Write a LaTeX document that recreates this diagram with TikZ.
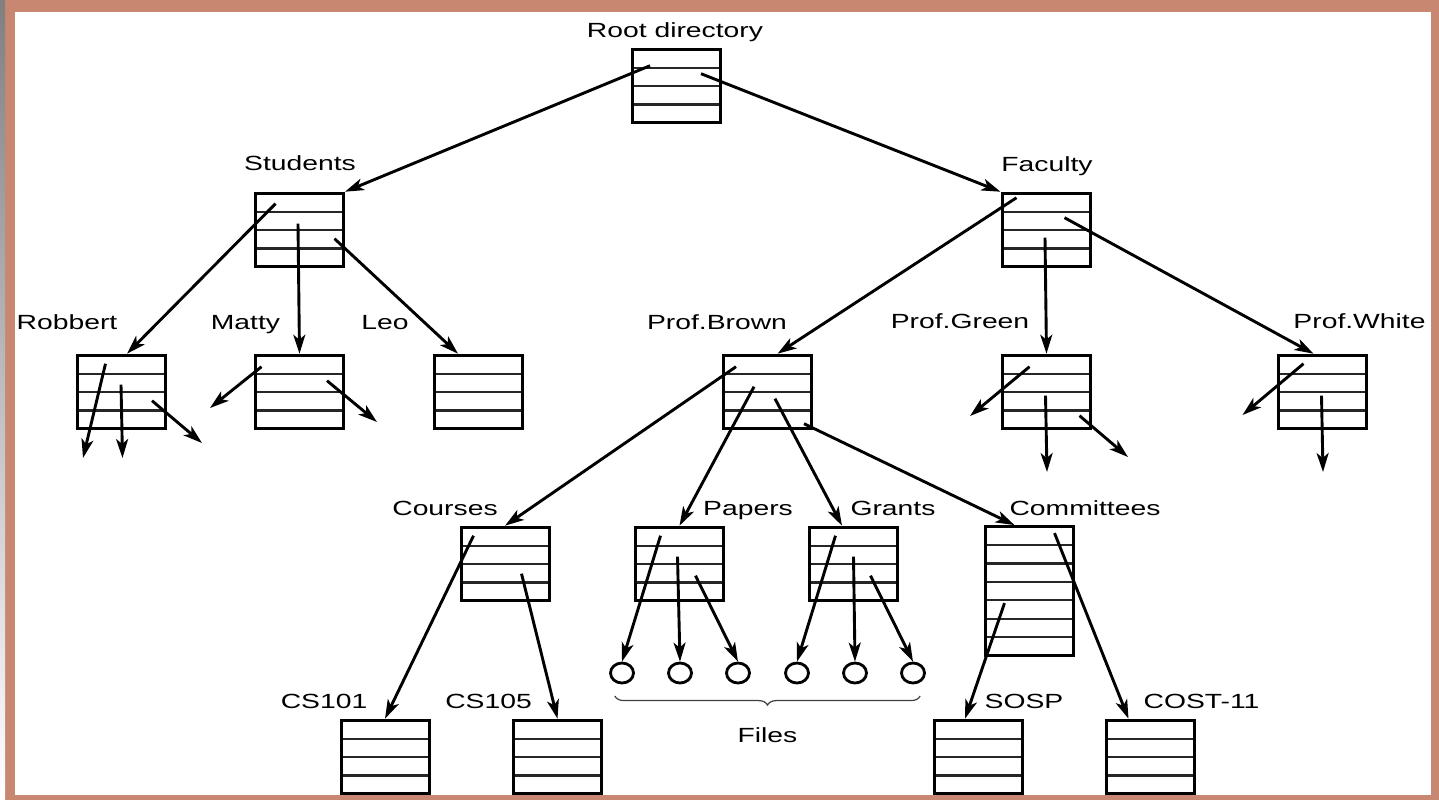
\documentclass[tikz,border=0pt]{standalone}
\usepackage{fontspec}
\setmainfont{Liberation Sans}[FakeStretch=1.38]
\usetikzlibrary{positioning, arrows.meta, calc, decorations.pathreplacing, shapes.geometric}
\definecolor{frame}{RGB}{200,135,112}
\definecolor{shade}{RGB}{180,186,145}

\begin{document}
\begin{tikzpicture}[
  x=0.5pt, y=-0.5pt,
  font=\fontsize{10.25}{12}\selectfont, >={Stealth[length=9.5pt, width=6pt, inset=2.5pt]},
  dirbox/.style={draw, line width=1.5pt, minimum width=44pt, minimum height=#1*9.2pt, inner sep=0pt,
    path picture={\foreach \k in {1,...,#1}
      \draw[line width=1.1pt, black!85] ($(path picture bounding box.north west)!\k/#1!(path picture bounding box.south west)$) -- ++(100,0);}},
  dirbox/.default=4,
  lbl/.style={anchor=base, inner sep=0pt},
  file/.style={draw, ellipse, line width=1.4pt, minimum width=11.5pt, minimum height=10pt, inner sep=0pt},
  ptr/.style={->, line width=1.45pt},
]
  \useasboundingbox (0,0) rectangle (1439,800);
  \fill[frame] (0,0) rectangle (1439,800);
  \fill[shade] (0,0) rectangle (5,800);
  \fill[white] (15,12) rectangle (1431,795);

  \node[dirbox] (root) at (676.5,86) {};
  \node[dirbox] (stud) at (299.5,230) {};
  \node[dirbox] (fac) at (1046,230) {};
  \node[dirbox] (rob) at (121,392) {};
  \node[dirbox] (mat) at (299.5,392) {};
  \node[dirbox] (leo) at (478,392) {};
  \node[dirbox] (brown) at (767.5,392) {};
  \node[dirbox] (green) at (1046.5,392) {};
  \node[dirbox] (white) at (1322.5,392) {};
  \node[dirbox] (crs) at (505,564) {};
  \node[dirbox] (pap) at (679.5,564) {};
  \node[dirbox] (grn) at (853.5,564) {};
  \node[dirbox=7] (com) at (1029.5,591) {};
  \node[dirbox] (cs1) at (385,757) {};
  \node[dirbox] (cs5) at (557.5,757) {};
  \node[dirbox] (sosp) at (978,757) {};
  \node[dirbox] (cost) at (1150.5,757) {};
  \foreach \x [count=\i] in {622,680,738,797,855,913}
    \node[file] (f\i) at (\x,673) {};

  \node[lbl] (lroot) at (675,37) {Root directory};
  \node[lbl] (lstud) at (300,170) {Students};
  \node[lbl] (lfac) at (1047,171) {Faculty};
  \node[lbl] (lrob) at (67,329) {Robbert};
  \node[lbl] (lmat) at (245.5,329) {Matty};
  \node[lbl] (lleo) at (385,329) {Leo};
  \node[lbl] (lbrown) at (717,329) {Prof.Brown};
  \node[lbl] (lgreen) at (960,328) {Prof.Green};
  \node[lbl] (lwhite) at (1359.5,328) {Prof.White};
  \node[lbl] (lcrs) at (445,515) {Courses};
  \node[lbl] (lpap) at (748,515) {Papers};
  \node[lbl] (lgrn) at (893,515) {Grants};
  \node[lbl] (lcom) at (1085,515) {Committees};
  \node[lbl] (lcs1) at (324,708) {CS101};
  \node[lbl] (lcs5) at (488.5,708) {CS105};
  \node[lbl] (lsosp) at (1024,708) {SOSP};
  \node[lbl] (lcost) at (1201.5,708) {COST-11};
  \node[lbl] (lfiles) at (767.5,742) {Files};

  \draw[decorate, decoration={brace, amplitude=4.5pt}, line width=0.6pt, black!75]
    ($(f6.south east)+(-2,15)$) -- ($(f1.south west)+(2,15)$);

  \coordinate (rob1) at (83,458);
  \coordinate (rob2) at (122.5,458);
  \coordinate (rob3) at (202,443);
  \coordinate (mat1) at (210,408);
  \coordinate (mat2) at (377,422);
  \coordinate (green1) at (970,416);
  \coordinate (green2) at (1047,472);
  \coordinate (green3) at (1128,457);
  \coordinate (white1) at (1242.5,415);
  \coordinate (white2) at (1323,472);

  \draw[ptr] ($(root.north west)+(19,18)$) -- (stud.north east);
  \draw[ptr] ($(root.north west)+(70,26)$) -- (fac.north west);
  \draw[ptr] ($(stud.north west)+(21.5,12)$) -- ($(rob.north)+(6,0)$);
  \draw[ptr] ($(stud.north west)+(44,32)$) -- (mat.north);
  \draw[ptr] ($(stud.north west)+(80.5,47)$) -- ($(leo.north)+(-20,0)$);
  \draw[ptr] ($(fac.north west)+(16,6)$) -- ($(brown.north)+(10,0)$);
  \draw[ptr] ($(fac.north west)+(44.5,46)$) -- (green.north);
  \draw[ptr] ($(fac.north west)+(64,26)$) -- ($(white.north)+(-9,0)$);
  \draw[ptr] ($(rob.north west)+(30,10)$) -- (rob1);
  \draw[ptr] ($(rob.north west)+(45.5,31)$) -- (rob2);
  \draw[ptr] ($(rob.north west)+(76.5,47)$) -- (rob3);
  \draw[ptr] ($(mat.north west)+(7.5,13)$) -- (mat1);
  \draw[ptr] ($(mat.north west)+(73,27)$) -- (mat2);
  \draw[ptr] ($(green.north west)+(28.5,13)$) -- (green1);
  \draw[ptr] ($(green.north west)+(44.5,42)$) -- (green2);
  \draw[ptr] ($(green.north west)+(78.5,62)$) -- (green3);
  \draw[ptr] ($(white.north west)+(26.5,10)$) -- (white1);
  \draw[ptr] ($(white.north west)+(44.5,42)$) -- (white2);
  \draw[ptr] ($(brown.north west)+(14,13)$) -- (crs.north);
  \draw[ptr] ($(brown.north west)+(32,33)$) -- (pap.north);
  \draw[ptr] ($(brown.north west)+(53,45)$) -- ($(grn.north)+(-11.5,0)$);
  \draw[ptr] ($(brown.north west)+(82,70)$) -- ($(com.north)+(-15,0)$);
  \draw[ptr] ($(crs.north west)+(14,10)$) -- (cs1.north);
  \draw[ptr] ($(crs.north west)+(62,48)$) -- (cs5.north);
  \draw[ptr] ($(pap.north west)+(26.5,10)$) -- (f1.north);
  \draw[ptr] ($(pap.north west)+(43.5,31)$) -- (f2.north);
  \draw[ptr] ($(pap.north west)+(61.5,50)$) -- (f3.north);
  \draw[ptr] ($(grn.north west)+(27.5,10)$) -- (f4.north);
  \draw[ptr] ($(grn.north west)+(45.5,31)$) -- (f5.north);
  \draw[ptr] ($(grn.north west)+(62.5,50)$) -- (f6.north);
  \draw[ptr] ($(com.north west)+(20.5,78)$) -- ($(sosp.north)+(-13,0)$);
  \draw[ptr] ($(com.north west)+(70.5,8)$) -- ($(cost.north)+(-22,0)$);
\end{tikzpicture}
\end{document}
